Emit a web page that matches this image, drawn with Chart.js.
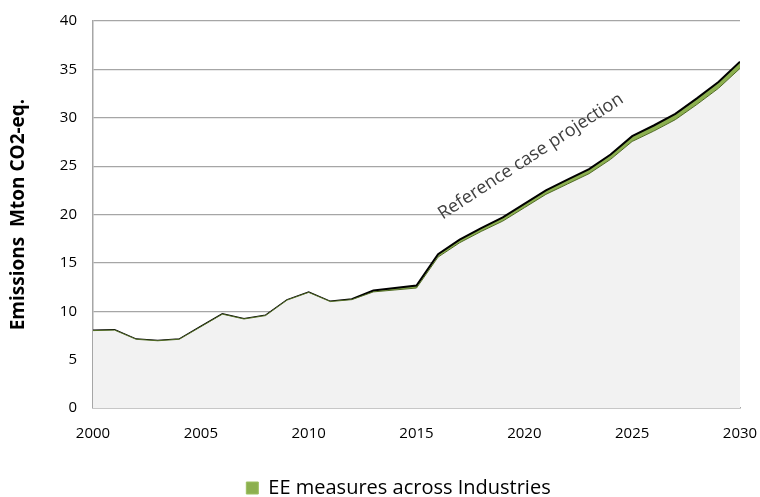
<!DOCTYPE html>
<html>
<head>
<meta charset="utf-8">
<title>Emissions</title>
<script src="https://cdn.jsdelivr.net/npm/chart.js@4"></script>
<style>
  html, body { margin: 0; padding: 0; background: #fff; }
  #wrap { width: 760px; height: 497px; }
</style>
</head>
<body>
<div id="wrap"><canvas id="grafico"></canvas></div>
<script>
// Years and reference-case emissions (Mton CO2-eq.)
const years = [2000, 2001, 2002, 2003, 2004, 2005, 2006, 2007, 2008, 2009, 2010,
  2011, 2012, 2013, 2014, 2015, 2016, 2017, 2018, 2019, 2020,
  2021, 2022, 2023, 2024, 2025, 2026, 2027, 2028, 2029, 2030];
const referencia = [8.0, 8.05, 7.1, 6.95, 7.1, 8.4, 9.7, 9.2, 9.55, 11.15, 11.95,
  11.0, 11.25, 12.15, 12.4, 12.65, 15.9, 17.4, 18.6, 19.7, 21.1,
  22.5, 23.6, 24.7, 26.2, 28.1, 29.2, 30.4, 32.0, 33.7, 35.8];
// Savings from energy-efficiency measures in industry
const ahorroEE = [0, 0, 0, 0, 0, 0, 0, 0, 0, 0, 0,
  0, 0.05, 0.15, 0.2, 0.25, 0.3, 0.32, 0.35, 0.38, 0.4,
  0.42, 0.45, 0.48, 0.5, 0.55, 0.58, 0.6, 0.63, 0.66, 0.7];
const yTicks = [0, 5, 10, 15, 20, 25, 30, 35, 40];
const xTicks = [2000, 2005, 2010, 2015, 2020, 2025, 2030];

const leyenda = 'EE measures across Industries';
const tituloY = 'Emissions  Mton CO2-eq.';
const anotacion = 'Reference case projection';

const fuente = '"Open Sans", "Liberation Sans", sans-serif';
const verde = '#8cb04f';
const gris = '#a6a6a6';

// Line after measures = reference minus savings
const conMedidas = referencia.map((v, i) => v - ahorroEE[i]);
const puntos = arr => years.map((y, i) => ({ x: y, y: arr[i] }));

// Rotated text above the projection curve
const textoProyeccion = {
  id: 'textoProyeccion',
  afterDatasetsDraw(chart) {
    const { ctx, scales } = chart;
    const px = scales.x.getPixelForValue(2020.3);
    const py = scales.y.getPixelForValue(26.0);
    ctx.save();
    ctx.translate(px, py);
    ctx.rotate(-33 * Math.PI / 180);
    ctx.font = '18px ' + fuente;
    ctx.fillStyle = '#404040';
    ctx.textAlign = 'center';
    ctx.textBaseline = 'middle';
    ctx.fillText(anotacion, 0, 0);
    ctx.restore();
  }
};

// Nudge the legend a little left of the plot centre
const moverLeyenda = {
  id: 'moverLeyenda',
  afterLayout(chart) {
    if (chart.legend) chart.legend.left -= 36;
  }
};

const ctx = document.getElementById('grafico').getContext('2d');
new Chart(ctx, {
  type: 'line',
  data: {
    datasets: [
      {
        label: 'base',
        data: puntos(conMedidas),
        fill: 'origin',
        backgroundColor: '#f2f2f2',
        borderColor: '#4f6a22',
        borderWidth: 1,
        pointRadius: 0,
        tension: 0
      },
      {
        label: leyenda,
        data: puntos(referencia),
        fill: '-1',
        backgroundColor: verde,
        borderColor: '#000000',
        borderWidth: 2,
        pointRadius: 0,
        tension: 0
      }
    ]
  },
  options: {
    responsive: true,
    maintainAspectRatio: false,
    animation: false,
    layout: { padding: { left: 0, right: 20, top: 21, bottom: -11 } },
    plugins: {
      tooltip: { enabled: false },
      legend: {
        position: 'bottom',
        fullSize: false,
        labels: {
          font: { family: fuente, size: 20, lineHeight: 1.0 },
          color: '#222',
          boxWidth: 12,
          boxHeight: 12,
          padding: 0,
          generateLabels: () => [{
            text: leyenda,
            fillStyle: verde,
            strokeStyle: '#9cc060',
            lineWidth: 1,
            datasetIndex: 1
          }]
        }
      }
    },
    scales: {
      x: {
        type: 'linear',
        min: 2000,
        max: 2030,
        afterBuildTicks: s => { s.ticks = xTicks.map(v => ({ value: v })); },
        afterFit: s => { s.height = 70; s.paddingLeft = 0; s.paddingRight = 0; },
        grid: { display: false, drawTicks: false },
        border: { display: true, color: gris, width: 1.5 },
        ticks: {
          padding: 17,
          maxRotation: 0,
          font: { family: fuente, size: 15 },
          color: '#000',
          callback: v => String(v)
        }
      },
      y: {
        min: 0,
        max: 40,
        afterBuildTicks: s => { s.ticks = yTicks.map(v => ({ value: v })); },
        afterFit: s => { s.width = 93; s.paddingTop = 0; s.paddingBottom = 0; },
        grid: { color: gris, lineWidth: 1.2, drawTicks: false },
        border: { display: true, color: gris, width: 1.5 },
        ticks: {
          padding: 16,
          font: { family: fuente, size: 15 },
          color: '#000'
        },
        title: {
          display: true,
          text: tituloY,
          color: '#000',
          font: { family: fuente, size: 19, weight: 'bold' },
          padding: { top: 7, bottom: 0 }
        }
      }
    }
  },
  plugins: [textoProyeccion, moverLeyenda]
});
</script>
</body>
</html>
